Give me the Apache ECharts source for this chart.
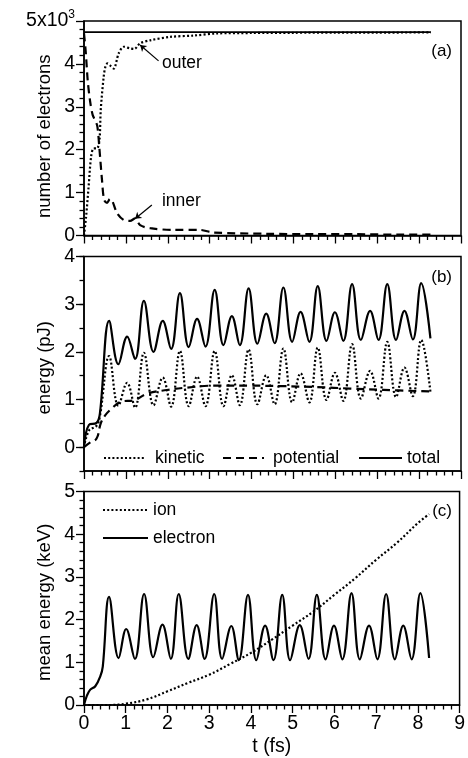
<!DOCTYPE html>
<html>
<head>
<meta charset="utf-8">
<script src="https://cdn.jsdelivr.net/npm/echarts@6/dist/echarts.min.js"></script>
<style>
html,body{margin:0;padding:0;background:#fff;}
#chart{width:468px;height:758px;}
</style>
</head>
<body>
<div id="chart"></div>
<script>
// ---------- Panel (a): number of electrons ----------
const tTotalA = [0, 8.28];
const totalA = [4740, 4740];
const tOuter = [0, 0.05, 0.11, 0.17, 0.23, 0.31, 0.37, 0.40, 0.47, 0.51, 0.56, 0.64, 0.71, 0.83, 0.95, 1.1, 1.2, 1.34, 1.58, 2.06, 2.61, 3.17, 4, 5, 6, 7, 8.28];
const outer = [0, 440, 1140, 1840, 2030, 2030, 2230, 2930, 3700, 3930, 4010, 3950, 3890, 4250, 4400, 4360, 4350, 4480, 4550, 4630, 4660, 4710, 4720, 4725, 4730, 4730, 4735];
const tInner = [0, 0.04, 0.09, 0.15, 0.21, 0.27, 0.32, 0.37, 0.43, 0.48, 0.55, 0.62, 0.67, 0.79, 0.95, 1.1, 1.22, 1.34, 1.58, 2.14, 2.77, 3.09, 4.36, 5.5, 6.5, 7.5, 8.28];
const inner = [4710, 4300, 3600, 3100, 2800, 2680, 2540, 2000, 1290, 830, 760, 850, 820, 520, 360, 340, 400, 240, 170, 130, 130, 70, 40, 30, 30, 20, 20];

// ---------- Panel (b): energy (pJ) ----------
const tEnergy = [0, 0.12, 0.3, 0.38, 0.6, 0.82, 1.03, 1.22, 1.43, 1.66, 1.88, 2.08, 2.29, 2.5, 2.7, 2.9, 3.12, 3.33, 3.53, 3.72, 3.93, 4.14, 4.35, 4.55, 4.76, 4.97, 5.17, 5.38, 5.58, 5.79, 5.99, 6.19, 6.4, 6.61, 6.83, 7.03, 7.24, 7.45, 7.65, 7.85, 8.05, 8.27];
const totalE = [0, 0.47, 0.51, 0.71, 2.65, 1.74, 2.32, 1.85, 3.07, 2.0, 2.65, 2.06, 3.23, 2.1, 2.69, 2.11, 3.3, 2.14, 2.75, 2.14, 3.33, 2.17, 2.8, 2.18, 3.35, 2.21, 2.84, 2.21, 3.38, 2.23, 2.83, 2.23, 3.42, 2.25, 2.86, 2.25, 3.42, 2.25, 2.86, 2.26, 3.44, 2.28];
const kineticE = [0, 0.35, 0.45, 0.65, 1.91, 0.87, 1.35, 0.83, 1.98, 0.88, 1.46, 0.85, 2.02, 0.86, 1.48, 0.86, 2.02, 0.86, 1.51, 0.88, 2.05, 0.9, 1.51, 0.9, 2.07, 0.94, 1.55, 0.94, 2.09, 0.99, 1.56, 0.97, 2.16, 1.02, 1.6, 1.02, 2.21, 1.05, 1.67, 1.07, 2.25, 1.16];
const tPot = [0, 0.15, 0.3, 0.4, 0.5, 0.65, 0.9, 1.18, 1.5, 1.98, 2.46, 3.1, 3.97, 4.76, 5.56, 6.35, 7.15, 8.27];
const potentialE = [0, 0.1, 0.18, 0.5, 0.66, 0.8, 0.96, 0.98, 1.12, 1.2, 1.25, 1.29, 1.29, 1.28, 1.26, 1.23, 1.2, 1.17];

// ---------- Panel (c): mean energy (keV) ----------
const tElec = [0, 0.07, 0.15, 0.27, 0.39, 0.45, 0.6, 0.83, 1.01, 1.22, 1.44, 1.66, 1.88, 2.08, 2.27, 2.5, 2.7, 2.89, 3.12, 3.31, 3.53, 3.71, 3.93, 4.13, 4.34, 4.54, 4.75, 4.94, 5.17, 5.38, 5.58, 5.79, 5.99, 6.19, 6.41, 6.61, 6.83, 7.03, 7.24, 7.45, 7.65, 7.85, 8.06, 8.27];
const elec = [0, 0.22, 0.36, 0.44, 0.67, 0.9, 2.53, 1.1, 1.78, 1.08, 2.6, 1.12, 1.88, 1.08, 2.6, 1.08, 1.87, 1.08, 2.6, 1.08, 1.85, 1.05, 2.58, 1.05, 1.86, 1.05, 2.58, 1.05, 1.87, 1.08, 2.58, 1.07, 1.86, 1.07, 2.62, 1.07, 1.86, 1.07, 2.6, 1.07, 1.86, 1.07, 2.62, 1.1];
const tIon = [0, 0.6, 1, 1.5, 2, 2.5, 3, 3.5, 4, 4.5, 5, 5.5, 6, 6.5, 7, 7.5, 8, 8.27];
const ion = [0, 0, 0.03, 0.13, 0.32, 0.52, 0.71, 0.96, 1.22, 1.53, 1.86, 2.19, 2.58, 2.97, 3.4, 3.8, 4.26, 4.47];

// tick label sets
const xTicks = [0, 1, 2, 3, 4, 5, 6, 7, 8, 9];

const pairs = (xs, ys) => xs.map((x, i) => [x, ys[i]]);
const FONT = '"Liberation Sans", Arial, Helvetica, sans-serif';
const BLACK = '#000';
const DOT = [2, 2.2];
const DASH = [8, 5];
const LW = 2.2;
const TICKFS = 19.5;
const NAMEFS = 18.5;

function xAxisFor(grid, showLabel) {
  return {
    type: 'value', gridIndex: grid, min: xTicks[0], max: xTicks[xTicks.length - 1], interval: 1,
    axisLine: { show: true, onZero: false, lineStyle: { color: BLACK, width: 1.5 } },
    axisTick: { show: true, inside: false, length: 8, lineStyle: { color: BLACK, width: 1.3 } },
    minorTick: { show: true, splitNumber: 5, length: 4.5, lineStyle: { color: BLACK, width: 1.3 } },
    splitLine: { show: false },
    axisLabel: { show: showLabel, fontSize: TICKFS, color: BLACK, fontFamily: FONT, margin: 9 },
    name: showLabel ? 't (fs)' : '', nameLocation: 'middle', nameGap: 32, nameMoveOverlap: false,
    nameTextStyle: { fontSize: 19.5, color: BLACK, fontFamily: FONT }
  };
}
function yCommon(extra) {
  return Object.assign({
    type: 'value',
    axisLine: { show: true, onZero: false, lineStyle: { color: BLACK, width: 1.5 } },
    axisTick: { show: true, inside: false, length: 8, lineStyle: { color: BLACK, width: 1.3 } },
    splitLine: { show: false },
    nameLocation: 'middle', nameGap: 30, nameMoveOverlap: false
  }, extra);
}

const gridBase = { left: 84, right: 7, show: true, borderColor: BLACK, borderWidth: 1.5, containLabel: false };
const legendItemStyle = { opacity: 0, color: 'transparent', borderWidth: 0 };

const option = {
  animation: false,
  backgroundColor: '#fff',
  textStyle: { fontFamily: FONT, color: BLACK },
  title: [
    { text: '(a)', right: 16, top: 43, padding: 0, textStyle: { fontSize: 17, fontWeight: 'normal', color: BLACK, fontFamily: FONT } },
    { text: '(b)', right: 16, top: 269, padding: 0, textStyle: { fontSize: 17, fontWeight: 'normal', color: BLACK, fontFamily: FONT } },
    { text: '(c)', right: 16, top: 503, padding: 0, textStyle: { fontSize: 17, fontWeight: 'normal', color: BLACK, fontFamily: FONT } }
  ],
  grid: [
    Object.assign({ top: 21, height: 214.5 }, gridBase),
    Object.assign({ top: 256.5, height: 214.5 }, gridBase),
    Object.assign({ top: 491.5, height: 214 }, gridBase),
    { left: 84, right: 7, top: 256.5, height: 190.67, show: false }
  ],
  xAxis: [
    xAxisFor(0, false),
    xAxisFor(1, false),
    xAxisFor(2, true),
    { type: 'value', gridIndex: 3, min: 0, max: 9, show: false }
  ],
  yAxis: [
    yCommon({
      gridIndex: 0, min: 0, max: 5000, interval: 1000,
      minorTick: { show: true, splitNumber: 5, length: 4.5, lineStyle: { color: BLACK, width: 1.3 } },
      name: 'number of electrons', nameTextStyle: { fontSize: NAMEFS, color: BLACK, fontFamily: FONT, padding: [0, 16, 0, 0] },
      axisLabel: {
        fontSize: TICKFS, color: BLACK, fontFamily: FONT, margin: 9,
        formatter: v => v === 5000 ? '{m|5x10}{s|3}' : '{m|' + (v / 1000) + '}',
        rich: {
          m: { fontSize: TICKFS, color: BLACK, fontFamily: FONT },
          s: { fontSize: 12, color: BLACK, fontFamily: FONT, padding: [0, 0, 12, 0] }
        }
      }
    }),
    yCommon({
      gridIndex: 1, min: -0.5, max: 4, interval: 0.5,
      axisTick: { show: true, inside: false, length: 4.5, lineStyle: { color: BLACK, width: 1.3 } },
      name: 'energy (pJ)', nameTextStyle: { fontSize: NAMEFS, color: BLACK, fontFamily: FONT, padding: [0, 8, 0, 0] },
      axisLabel: {
        fontSize: TICKFS, color: BLACK, fontFamily: FONT, margin: 9,
        formatter: v => Math.abs(v - Math.round(v)) < 1e-6 ? String(Math.round(v)) : ''
      }
    }),
    yCommon({
      gridIndex: 2, min: 0, max: 5, interval: 1,
      minorTick: { show: true, splitNumber: 5, length: 4.5, lineStyle: { color: BLACK, width: 1.3 } },
      name: 'mean energy (keV)', nameTextStyle: { fontSize: NAMEFS, color: BLACK, fontFamily: FONT, padding: [0, 8, 0, 0] },
      axisLabel: { fontSize: TICKFS, color: BLACK, fontFamily: FONT, margin: 9 }
    }),
    {
      type: 'value', gridIndex: 3, min: 0, max: 4, interval: 1,
      axisLine: { show: false }, axisLabel: { show: false }, splitLine: { show: false },
      axisTick: { show: true, inside: false, length: 8, lineStyle: { color: BLACK, width: 1.3 } }
    }
  ],
  legend: [
    { data: ['kinetic'], left: 103, top: 449, padding: 0, itemWidth: 40, itemHeight: 14, selectedMode: false, itemStyle: legendItemStyle,
      textStyle: { fontSize: 17.5, color: BLACK, fontFamily: FONT, padding: [0, 0, 0, 6] } },
    { data: ['potential'], left: 222, top: 449, padding: 0, itemWidth: 41, itemHeight: 14, selectedMode: false, itemStyle: legendItemStyle,
      textStyle: { fontSize: 17.5, color: BLACK, fontFamily: FONT, padding: [0, 0, 0, 4] } },
    { data: ['total'], left: 358, top: 449, padding: 0, itemWidth: 43, itemHeight: 14, selectedMode: false, itemStyle: legendItemStyle,
      textStyle: { fontSize: 17.5, color: BLACK, fontFamily: FONT } },
    { data: ['ion', 'electron'], left: 102, top: 501, padding: 0, orient: 'vertical', itemGap: 10, itemWidth: 45, itemHeight: 14, selectedMode: false, itemStyle: legendItemStyle,
      textStyle: { fontSize: 17.5, color: BLACK, fontFamily: FONT } }
  ],
  series: [
    { name: 'all electrons', type: 'line', xAxisIndex: 0, yAxisIndex: 0, symbol: 'none',
      data: pairs(tTotalA, totalA), lineStyle: { color: BLACK, width: 1.6 } },
    { name: 'outer', type: 'line', xAxisIndex: 0, yAxisIndex: 0, symbol: 'none', smooth: 0.3,
      data: pairs(tOuter, outer), lineStyle: { color: BLACK, width: LW, type: DOT },
      markLine: { silent: true, symbol: ['none', 'arrow'], symbolSize: 6, label: { show: false },
        lineStyle: { color: BLACK, type: 'solid', width: 1.2 },
        data: [[{ coord: [1.78, 4070] }, { coord: [1.34, 4440] }]] },
      markPoint: { symbol: 'circle', symbolSize: 0, silent: true,
        data: [{ coord: [1.86, 4020], label: { show: true, position: 'right', distance: 0, formatter: 'outer', fontSize: 17.5, color: BLACK, fontFamily: FONT } }] } },
    { name: 'inner', type: 'line', xAxisIndex: 0, yAxisIndex: 0, symbol: 'none', smooth: 0.3,
      data: pairs(tInner, inner), lineStyle: { color: BLACK, width: LW, type: DASH },
      markLine: { silent: true, symbol: ['none', 'arrow'], symbolSize: 6, label: { show: false },
        lineStyle: { color: BLACK, type: 'solid', width: 1.2 },
        data: [[{ coord: [1.62, 710] }, { coord: [1.22, 390] }]] },
      markPoint: { symbol: 'circle', symbolSize: 0, silent: true,
        data: [{ coord: [1.86, 790], label: { show: true, position: 'right', distance: 0, formatter: 'inner', fontSize: 17.5, color: BLACK, fontFamily: FONT } }] } },

    { name: 'kinetic', type: 'line', xAxisIndex: 1, yAxisIndex: 1, symbol: 'none', smooth: 0.4,
      data: pairs(tEnergy, kineticE), lineStyle: { color: BLACK, width: LW, type: DOT }, itemStyle: { color: BLACK } },
    { name: 'potential', type: 'line', xAxisIndex: 1, yAxisIndex: 1, symbol: 'none', smooth: 0.4,
      data: pairs(tPot, potentialE), lineStyle: { color: BLACK, width: LW, type: DASH }, itemStyle: { color: BLACK } },
    { name: 'total', type: 'line', xAxisIndex: 1, yAxisIndex: 1, symbol: 'none', smooth: 0.4,
      data: pairs(tEnergy, totalE), lineStyle: { color: BLACK, width: LW }, itemStyle: { color: BLACK } },

    { name: 'ion', type: 'line', xAxisIndex: 2, yAxisIndex: 2, symbol: 'none', smooth: 0.4,
      data: pairs(tIon, ion), lineStyle: { color: BLACK, width: LW, type: DOT }, itemStyle: { color: BLACK } },
    { name: 'electron', type: 'line', xAxisIndex: 2, yAxisIndex: 2, symbol: 'none', smooth: 0.4,
      data: pairs(tElec, elec), lineStyle: { color: BLACK, width: LW }, itemStyle: { color: BLACK } }
  ]
};

const chart = echarts.init(document.getElementById('chart'), null, { renderer: 'canvas' });
chart.setOption(option);
</script>
</body>
</html>
